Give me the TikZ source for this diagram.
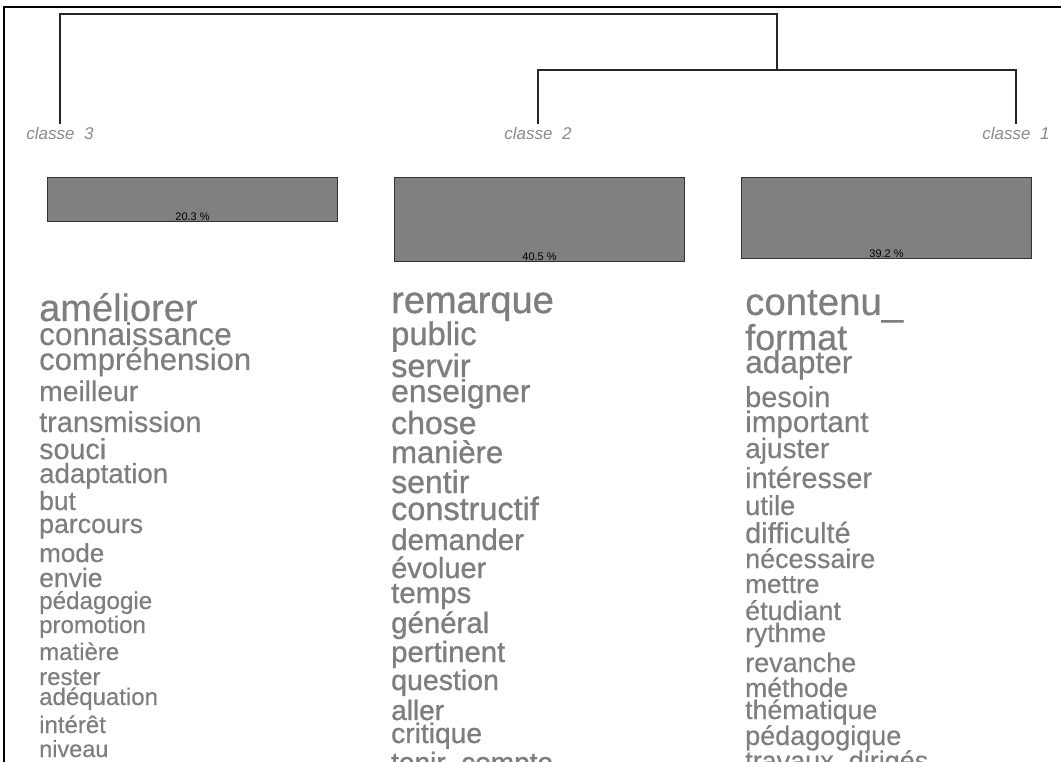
\documentclass[tikz,border=0pt]{standalone}
\usepackage{fontspec}
\setmainfont{Liberation Sans}
\newfontfamily\lightword{Liberation Sans}[FakeBold=0.4]
\newfontfamily\heavyword{Liberation Sans}[FakeBold=1.0]
\usetikzlibrary{positioning}
\definecolor{wordgray}{HTML}{7E7E7E}
\definecolor{bargray}{HTML}{808080}
\definecolor{labelgray}{HTML}{8A8A8A}
\newcommand{\wsize}[1]{\fontsize{#1}{#1}\selectfont}
\tikzset{
    % word lists of the classes
    word/.style={anchor=base west, inner sep=0pt, text=wordgray},
}

\begin{document}
\begin{tikzpicture}[x=1pt, y=-1pt,
    branch/.style={line width=1.2pt, draw=black!85},
    classe/.style={font=\wsize{17}\itshape, text=labelgray, inner sep=0pt, anchor=base},
    bar/.style={rectangle, draw=black!80, line width=1.1pt, fill=bargray,
                minimum width=290pt, inner sep=0pt, anchor=north west},
    pct/.style={font=\wsize{11}, inner sep=0pt, anchor=base},
]
    \useasboundingbox (0,0) rectangle (1061,762);
    \clip (0,0) rectangle (1061,762);

    % frame
    \draw[line width=1.6pt] (4,762) -- (4,7) -- (1061,7);

    % class labels
    \node[classe] (l3) at (60,140) {classe\ \ 3};
    \node[classe] (l2) at (538,140) {classe\ \ 2};
    \node[classe] (l1) at (1016,140) {classe\ \ 1};

    % dendrogram
    \coordinate (m12) at (777,70);
    \coordinate (root) at (777,14);
    \draw[branch] ([yshift=3pt]l3.north) |- (root) -- (m12);
    \draw[branch] ([yshift=3pt]l2.north) |- (m12) -| ([yshift=3pt]l1.north);

    % size of the classes
    \node[bar, minimum height=44pt] (b3) at (47,177) {};
    \node[bar, minimum height=84pt] (b2) at (394,177) {};
    \node[bar, minimum height=81pt] (b1) at (741,177) {};
    \node[pct] (p3) at ([yshift=1.5pt]b3.south) {20.3 \%};
    \node[pct] (p2) at ([yshift=1.5pt]b2.south) {40.5 \%};
    \node[pct] (p1) at ([yshift=1.5pt]b1.south) {39.2 \%};

    % classe 3
    \foreach \w/\s/\y [count=\i] in {améliorer/38/321, connaissance/31.5/345,
        compréhension/31/370, meilleur/28.3/401, transmission/28.9/432,
        souci/28.7/459, adaptation/27.6/483, but/26.4/510, parcours/26.7/533,
        mode/26/562, envie/26.5/587, pédagogie/24.2/609, promotion/24/633,
        matière/24/660, rester/24/685, adéquation/24/705, intérêt/24/733,
        niveau/23.5/757}
        \node[word, font=\lightword\wsize{\s}] (gauche\i) at (39,\y) {\w};

    % classe 2
    \foreach \w/\s/\y [count=\i] in {remarque/38/313, public/32.7/345,
        servir/32.5/377, enseigner/31.7/402, chose/32/434, manière/31/463,
        sentir/32/493, constructif/32.4/520, demander/29.5/550,
        évoluer/29/578, temps/29.4/603, général/29.4/633, pertinent/29.3/662,
        question/28.5/690, aller/28/720, critique/28.2/743,
        tenir\_compte/28/772}
        \node[word, font=\heavyword\wsize{\s}] (milieu\i) at (391,\y) {\w};

    % classe 1
    \foreach \w/\s/\y [count=\i] in {contenu\_/38.4/315, format/36/350,
        adapter/31.6/373, besoin/28.9/407, important/29.6/432,
        ajuster/28/458, intéresser/28.9/488, utile/27.3/515,
        difficulté/28.9/543, nécessaire/26.9/568, mettre/26.2/593,
        étudiant/26.9/620, rythme/26.5/642, revanche/27/672,
        méthode/26.5/697, thématique/26.7/719, pédagogique/27/745,
        travaux\_dirigés/27/770}
        \node[word, font=\lightword\wsize{\s}] (droite\i) at (745,\y) {\w};
\end{tikzpicture}
\end{document}
